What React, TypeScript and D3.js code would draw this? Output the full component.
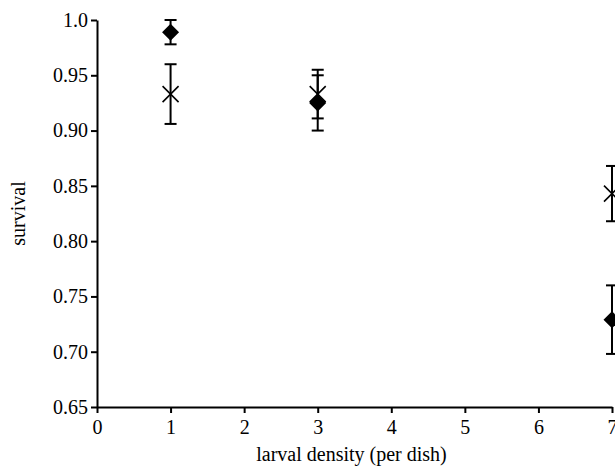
import { useEffect, useRef } from "react"
import * as d3 from "d3"

const densities = [1, 3, 7]
const diamondSurvival = [0.989, 0.925, 0.729]
const diamondError = [0.011, 0.025, 0.031]
const crossSurvival = [0.933, 0.933, 0.843]
const crossError = [0.027, 0.022, 0.025]

const xTicks = [0, 1, 2, 3, 4, 5, 6, 7]
const yTicks = [0.65, 0.7, 0.75, 0.8, 0.85, 0.9, 0.95, 1.0]
const yTickLabels = ["0.65", "0.70", "0.75", "0.80", "0.85", "0.90", "0.95", "1.0"]

const xTitle = "larval density (per dish)"
const yTitle = "survival"

export default function App() {
  const svgRef = useRef<SVGSVGElement>(null)

  useEffect(() => {
    if (!svgRef.current) return
    const width = 615
    const height = 470
    const margin = { top: 20, right: 3, bottom: 63, left: 97 }
    const innerWidth = width - margin.left - margin.right
    const innerHeight = height - margin.top - margin.bottom

    const root = d3.select(svgRef.current)
    root.selectAll("*").remove()
    root.attr("width", width).attr("height", height).style("font-family", "Liberation Serif, serif")

    const svg = root.append("g").attr("transform", `translate(${margin.left},${margin.top})`)

    const xScale = d3.scaleLinear().domain([0, 7]).range([0, 515])
    const yScale = d3.scaleLinear().domain([0.65, 1.0]).range([innerHeight, 0])

    // Axes
    const xAxis = svg
      .append("g")
      .attr("transform", `translate(0,${innerHeight})`)
      .call(
        d3
          .axisBottom(xScale)
          .tickValues(xTicks)
          .tickSize(6)
          .tickSizeOuter(0)
          .tickFormat((d) => String(d)),
      )
      .attr("font-family", null)
      .attr("font-size", null)
    xAxis.select(".domain").attr("stroke", "#000").attr("stroke-width", 2)
    xAxis.selectAll(".tick line").attr("stroke", "#000").attr("stroke-width", 2)
    xAxis
      .selectAll("text")
      .attr("fill", "#000")
      .style("font-size", "20px")
      .attr("dy", "0.9em")

    const yAxis = svg
      .append("g")
      .call(
        d3
          .axisLeft(yScale)
          .tickValues(yTicks)
          .tickSize(6)
          .tickSizeOuter(0)
          .tickFormat((_, i) => yTickLabels[i]),
      )
      .attr("font-family", null)
      .attr("font-size", null)
    yAxis.select(".domain").attr("stroke", "#000").attr("stroke-width", 2)
    yAxis.selectAll(".tick line").attr("stroke", "#000").attr("stroke-width", 2)
    yAxis
      .selectAll("text")
      .attr("fill", "#000")
      .style("font-size", "20px")
      .attr("x", -9)

    // Titles
    svg
      .append("text")
      .attr("x", innerWidth / 2 - 3)
      .attr("y", innerHeight + 54)
      .attr("text-anchor", "middle")
      .style("font-size", "20px")
      .text(xTitle)

    svg
      .append("text")
      .attr("transform", `translate(${-72},${innerHeight / 2}) rotate(-90)`)
      .attr("text-anchor", "middle")
      .style("font-size", "20px")
      .text(yTitle)

    // Error bars
    const drawErrors = (values: number[], errors: number[]) => {
      densities.forEach((d, i) => {
        const x = xScale(d)
        const y1 = yScale(values[i] + errors[i])
        const y2 = yScale(values[i] - errors[i])
        const g = svg.append("g").attr("stroke", "#000").attr("stroke-width", 2)
        g.append("line").attr("x1", x).attr("x2", x).attr("y1", y1).attr("y2", y2)
        g.append("line").attr("x1", x - 6).attr("x2", x + 6).attr("y1", y1).attr("y2", y1)
        g.append("line").attr("x1", x - 6).attr("x2", x + 6).attr("y1", y2).attr("y2", y2)
      })
    }
    drawErrors(crossSurvival, crossError)
    drawErrors(diamondSurvival, diamondError)

    // Cross markers
    svg
      .selectAll("path.cross")
      .data(densities)
      .enter()
      .append("path")
      .attr("class", "cross")
      .attr("transform", (d, i) => `translate(${xScale(d)},${yScale(crossSurvival[i])})`)
      .attr("d", "M-8,-8L8,8M-8,8L8,-8")
      .attr("stroke", "#000")
      .attr("stroke-width", 1.6)
      .attr("fill", "none")

    // Diamond markers
    svg
      .selectAll("path.diamond")
      .data(densities)
      .enter()
      .append("path")
      .attr("class", "diamond")
      .attr("transform", (d, i) => `translate(${xScale(d)},${yScale(diamondSurvival[i])})`)
      .attr("d", "M0,-8.5L8.5,0L0,8.5L-8.5,0Z")
      .attr("fill", "#000")
  }, [])

  return <svg ref={svgRef} style={{ position: "absolute", left: 0, top: 0, display: "block" }} />
}
